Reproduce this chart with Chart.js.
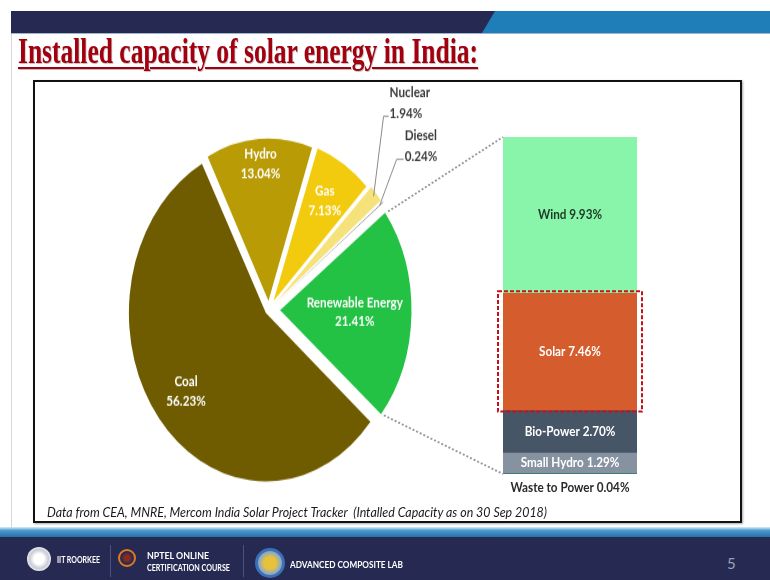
<!DOCTYPE html>
<html>
<head>
<meta charset="utf-8">
<title>Installed capacity of solar energy in India</title>
<script src="https://cdn.jsdelivr.net/npm/chart.js@4.4.0/dist/chart.umd.min.js"></script>
<style>
  html, body { margin: 0; padding: 0; }
  body { width: 770px; height: 580px; position: relative; overflow: hidden; background: #fff; font-family: Lato, "Open Sans", sans-serif; }
  .fit { position: absolute; white-space: nowrap; transform-origin: 0 0; }
  #topband { position: absolute; left: 11px; top: 11px; width: 759px; height: 22px; background: #262a52; border-bottom: 1px solid #9db4cc; }
  #topband .blue { position: absolute; left: 471px; top: 0; width: 288px; height: 22px; background: #1f7db8; clip-path: polygon(13px 0, 100% 0, 100% 100%, 0 100%); }
  #leftline { position: absolute; left: 11px; top: 34px; width: 1px; height: 493px; background: #d6d6d6; }
  #title { left: 18px; top: 33px; font-family: "Liberation Serif", "Times New Roman", serif; font-weight: bold; font-size: 36px; line-height: 36px; color: #a3000f;
           text-decoration: underline; text-decoration-thickness: 2px; text-underline-offset: 4px; text-shadow: 1px 1px 1px rgba(0,0,0,0.25); }
  #box { position: absolute; left: 33px; top: 80px; width: 705px; height: 439px; border: 2px solid #111; box-shadow: 1px 1px 2px rgba(0,0,0,0.35); }
  #pie { position: absolute; left: 100px; top: 70px; transform: scaleY(1.23); transform-origin: 0 0; }
  #bar { position: absolute; left: 370px; top: 120px; }
  #note { left: 47px; top: 504px; font-size: 14px; line-height: 16px; font-style: italic; color: #1a1a1a; }
  #stripe { position: absolute; left: 0; top: 527px; width: 770px; height: 10px; background: linear-gradient(#d6ecf7, #4b9bd0 35%, #2a70a8); }
  #footer { position: absolute; left: 0; top: 537px; width: 770px; height: 43px; background: #262a52; }
  .ft { color: #fff; font-weight: bold; font-size: 10px; line-height: 11px; }
  .sep { position: absolute; top: 8px; width: 1px; height: 32px; background: #4c5280; }
  .logo { position: absolute; border-radius: 50%; }
</style>
</head>
<body>
<div id="topband"><div class="blue"></div></div>
<div id="leftline"></div>
<div id="title" class="fit">Installed capacity of solar energy in India:</div>
<div id="box"></div>
<canvas id="pie" width="340" height="350"></canvas>
<canvas id="bar" width="330" height="380"></canvas>
<div id="note" class="fit">Data from CEA, MNRE, Mercom India Solar Project Tracker&nbsp; (Intalled Capacity as on 30 Sep 2018)</div>
<div id="stripe"></div>
<div id="footer">
  <div class="logo" style="left:27px;top:10px;width:24px;height:24px;background:radial-gradient(#fff 30%, #c9ccd6 55%, #f2f2f2 75%);"></div>
  <div id="ft1" class="fit ft" style="left:57px;top:17px;">IIT ROORKEE</div>
  <div class="sep" style="left:110px;"></div>
  <div class="logo" style="left:118px;top:12px;width:18px;height:18px;border:2px solid #e07a1c;box-sizing:border-box;background:radial-gradient(#8a2a20 25%, #262a52 60%);"></div>
  <div id="ft2" class="fit ft" style="left:147px;top:13px;">NPTEL ONLINE</div>
  <div id="ft3" class="fit ft" style="left:147px;top:25px;">CERTIFICATION COURSE</div>
  <div class="sep" style="left:243px;"></div>
  <div class="logo" style="left:255px;top:11px;width:30px;height:30px;border:3px solid #3b6fb8;box-sizing:border-box;background:radial-gradient(#e8c23a 35%, #7fa6d8 70%);"></div>
  <div id="ft4" class="fit ft" style="left:290px;top:22px;">ADVANCED COMPOSITE LAB</div>
  <div class="fit" style="left:727px;top:17px;font-size:15px;color:#9aa0b8;">5</div>
</div>

<script>
// Share of total installed capacity (%), as on 30 Sep 2018
const sources = ['Coal', 'Hydro', 'Gas', 'Nuclear', 'Diesel', 'Renewable Energy'];
const sharePct = [56.23, 13.04, 7.13, 1.94, 0.24, 21.41];

// Renewable breakdown, stacked from the bottom up
const reSources = ['Waste to Power', 'Small Hydro', 'Bio-Power', 'Solar', 'Wind'];
const reSharePct = [0.04, 1.29, 2.70, 7.46, 9.93];

const sourceColors = ['#705c00', '#b89b05', '#f3cb0e', '#f6e27a', '#151515', '#23c245'];
const sourceOffsets = [16, 22, 20, 22, 22, 40];
const reColors = ['#3f7f7a', '#8692a0', '#475666', '#d55c2c', '#88f5aa'];
const reTextColors = ['#2a2a2a', '#ffffff', '#ffffff', '#ffffff', '#1d3a25'];

const PIE_LEFT = 100, PIE_TOP = 70, SQUASH = 1.23;
const BAR_LEFT = 370, BAR_TOP = 120;
const LABEL_FONT = 'bold 13px Lato, "Open Sans", sans-serif';
const NARROW = 0.9;   // labels in the slide are a bit condensed

// where the names sit inside the slices (fraction of the radius)
const insideLabels = { 'Coal': 0.77, 'Hydro': 0.85, 'Gas': 0.75, 'Renewable Energy': 0.57 };
// callouts for the thin slices (page pixels from the slice edge)
const calloutLabels = { 'Nuclear': { dx: 10, dy: -80, run: 5 }, 'Diesel': { dx: 17, dy: -46, run: 7 } };

function fitWidth(id, width) {
  const el = document.getElementById(id);
  const w = el.getBoundingClientRect().width;
  el.style.transform = 'scaleX(' + (width / w) + ')';
}

function pct(v) {
  return v.toFixed(2) + '%';
}

function label(ctx, txt, x, y, sy) {
  ctx.save();
  ctx.translate(x, y);
  ctx.scale(NARROW, sy);
  ctx.fillText(txt, 0, 0);
  ctx.restore();
}

// text drawn on the squashed pie canvas is un-squashed so it looks like the rest
function pieText(ctx, txt, x, y) {
  label(ctx, txt, x, y, 1 / SQUASH);
}

function arcEdge(arc, angle, extra) {
  const p = arc.getProps(['x', 'y', 'startAngle', 'endAngle', 'outerRadius'], true);
  const mid = (p.startAngle + p.endAngle) / 2;
  const shift = (arc.options.offset || 0) / 4;
  return {
    x: p.x + Math.cos(mid) * shift + Math.cos(angle) * (p.outerRadius + extra),
    y: p.y + Math.sin(mid) * shift + Math.sin(angle) * (p.outerRadius + extra)
  };
}

const pieLabels = {
  id: 'pieLabels',
  afterDatasetsDraw(chart) {
    const ctx = chart.ctx;
    const arcs = chart.getDatasetMeta(0).data;
    ctx.save();
    ctx.font = LABEL_FONT;
    ctx.textBaseline = 'middle';
    arcs.forEach((arc, i) => {
      const name = sources[i];
      const p = arc.getProps(['x', 'y', 'startAngle', 'endAngle', 'outerRadius'], true);
      const mid = (p.startAngle + p.endAngle) / 2;
      const shift = (arc.options.offset || 0) / 4;
      if (insideLabels[name] !== undefined) {
        const d = shift + insideLabels[name] * p.outerRadius;
        const cx = p.x + Math.cos(mid) * d;
        const cy = p.y + Math.sin(mid) * d;
        const gap = 9.5 / SQUASH;
        ctx.fillStyle = '#ffffff';
        ctx.textAlign = 'center';
        pieText(ctx, name, cx, cy - gap);
        pieText(ctx, pct(sharePct[i]), cx, cy + gap);
      } else if (calloutLabels[name]) {
        const c = calloutLabels[name];
        const start = arcEdge(arc, mid, 1);
        const elbow = { x: start.x + c.dx, y: start.y + c.dy / SQUASH };
        ctx.strokeStyle = '#8a8a8a';
        ctx.lineWidth = 1;
        ctx.beginPath();
        ctx.moveTo(start.x, start.y);
        ctx.lineTo(elbow.x, elbow.y);
        ctx.lineTo(elbow.x + c.run, elbow.y);
        ctx.stroke();
        ctx.fillStyle = '#3a3a3a';
        ctx.textAlign = 'left';
        pieText(ctx, name, elbow.x + c.run + 1, elbow.y - 23 / SQUASH);
        pieText(ctx, pct(sharePct[i]), elbow.x + c.run + 1, elbow.y - 3 / SQUASH);
      }
    });
    ctx.restore();
  }
};

const pieChart = new Chart(document.getElementById('pie'), {
  type: 'pie',
  data: {
    labels: sources,
    datasets: [{
      data: sharePct,
      backgroundColor: sourceColors,
      borderColor: '#ffffff',
      borderWidth: [0, 1.5, 1.5, 1, 0, 1.5],
      offset: sourceOffsets
    }]
  },
  options: {
    responsive: false,
    animation: false,
    events: [],
    rotation: 130,
    radius: 133,
    layout: { padding: { left: 20, right: 22, top: 44, bottom: 4 } },
    plugins: { legend: { display: false }, tooltip: { enabled: false } }
  },
  plugins: [pieLabels]
});

const barLabels = {
  id: 'barLabels',
  afterDatasetsDraw(chart) {
    const ctx = chart.ctx;
    const bars = reSources.map((s, i) => chart.getDatasetMeta(i).data[0].getProps(['x', 'y', 'base', 'width'], true));
    ctx.save();
    ctx.font = LABEL_FONT;
    ctx.textAlign = 'center';
    ctx.textBaseline = 'middle';
    bars.forEach((b, i) => {
      const txt = reSources[i] + ' ' + pct(reSharePct[i]);
      ctx.fillStyle = reTextColors[i];
      if (b.base - b.y < 12) {
        label(ctx, txt, b.x, b.base + 14, 1);
      } else {
        label(ctx, txt, b.x, (b.y + b.base) / 2, 1);
      }
    });

    // dashed highlight round the solar share
    const solar = bars[reSources.indexOf('Solar')];
    ctx.strokeStyle = '#c8101a';
    ctx.lineWidth = 2;
    ctx.setLineDash([4, 2]);
    ctx.strokeRect(solar.x - solar.width / 2 - 5, solar.y - 2, solar.width + 10, solar.base - solar.y + 3);

    // dotted connectors from the renewable slice to the breakdown bar
    const re = pieChart.getDatasetMeta(0).data[sources.indexOf('Renewable Energy')];
    const rp = re.getProps(['startAngle', 'endAngle'], true);
    const toBar = (pt) => ({ x: PIE_LEFT + pt.x - BAR_LEFT, y: PIE_TOP + pt.y * SQUASH - BAR_TOP });
    const topPt = toBar(arcEdge(re, rp.startAngle, 0));
    const botPt = toBar(arcEdge(re, rp.endAngle, 0));
    const left = chart.chartArea.left;
    ctx.strokeStyle = '#9c9c9c';
    ctx.lineWidth = 2;
    ctx.setLineDash([2, 2]);
    ctx.beginPath();
    ctx.moveTo(topPt.x + 3, topPt.y);
    ctx.lineTo(left, bars[bars.length - 1].y);
    ctx.moveTo(botPt.x + 3, botPt.y);
    ctx.lineTo(left, bars[0].base);
    ctx.stroke();
    ctx.restore();
  }
};

const reTotal = reSharePct.reduce((a, v) => a + v, 0);

const barChart = new Chart(document.getElementById('bar'), {
  type: 'bar',
  data: {
    labels: ['Renewable Energy'],
    datasets: reSources.map((s, i) => ({
      label: s,
      data: [reSharePct[i]],
      backgroundColor: reColors[i],
      borderWidth: 0,
      barPercentage: 1,
      categoryPercentage: 1
    }))
  },
  options: {
    responsive: false,
    animation: false,
    events: [],
    layout: { padding: { left: 133, right: 63, top: 17, bottom: 26 } },
    scales: {
      x: { stacked: true, display: false },
      y: { stacked: true, display: false, min: 0, max: reTotal }
    },
    plugins: { legend: { display: false }, tooltip: { enabled: false } }
  },
  plugins: [barLabels]
});

fitWidth('title', 460);
fitWidth('note', 500);
fitWidth('ft1', 43);
fitWidth('ft2', 62);
fitWidth('ft3', 83);
fitWidth('ft4', 113);
</script>
</body>
</html>
